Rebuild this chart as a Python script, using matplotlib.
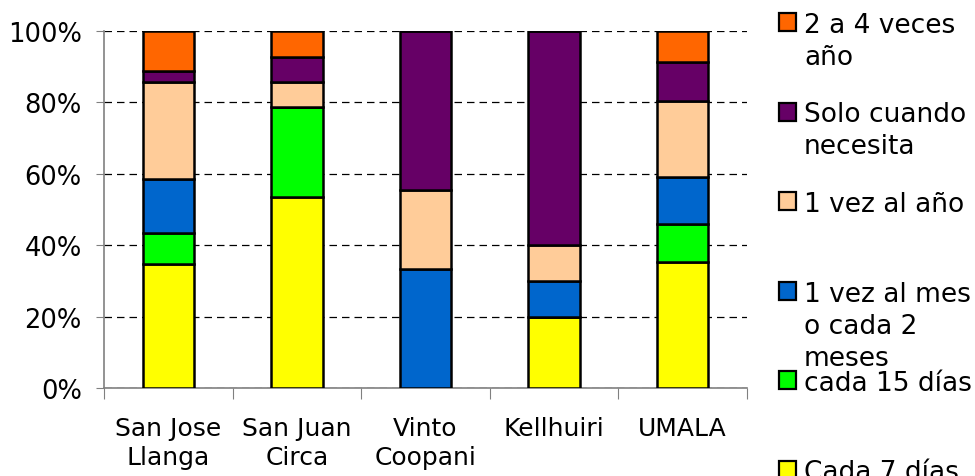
import matplotlib

matplotlib.use("Agg")

import matplotlib.patches as mpatches  # noqa: E402
import matplotlib.pyplot as plt  # noqa: E402
import numpy as np  # noqa: E402

# data (percent per community), bottom -> top
communities = ["San Jose\nLlanga", "San Juan\nCirca", "Vinto\nCoopani", "Kellhuiri", "UMALA"]
series_names = ["Cada 7 días", "cada 15 días", "1 vez al mes\no cada 2\nmeses",
                "1 vez al año", "Solo cuando\nnecesita", "2 a 4 veces\naño"]
cada_7 = [34.8, 53.6, 0.0, 20.0, 35.2]
cada_15 = [8.5, 25.0, 0.0, 0.0, 10.7]
mes_2meses = [15.2, 0.0, 33.3, 10.0, 13.1]
vez_anio = [27.2, 7.1, 22.2, 10.0, 21.4]
solo_cuando = [3.1, 7.1, 44.5, 60.0, 10.9]
dos_cuatro = [11.2, 7.1, 0.0, 0.0, 8.7]
colors = ["#FFFF00", "#00FF00", "#0066CC", "#FFCC99", "#660066", "#FF6600"]

values = [cada_7, cada_15, mes_2meses, vez_anio, solo_cuando, dos_cuatro]

FS_TICK = 18.5
FS_CAT = 18
FS_LEG = 19
plt.rcParams["font.family"] = ["DejaVu Sans"]

fig = plt.figure(figsize=(9.75, 4.77), dpi=100)
ax = fig.add_axes((104 / 975, 88 / 477, 643 / 975, 357 / 477))

x = np.arange(len(communities))
bottom = np.zeros(len(communities))
for vals, col in zip(values, colors):
    v = np.array(vals)
    ax.bar(x, v, width=0.4, bottom=bottom, color=col, edgecolor="black",
           linewidth=1.8, zorder=3)
    bottom += v

ax.set_ylim(0, 100)
ax.set_xlim(-0.5, len(communities) - 0.5)
ax.set_yticks([0, 20, 40, 60, 80, 100])
ax.set_yticklabels([f"{t}%" for t in [0, 20, 40, 60, 80, 100]], fontsize=FS_TICK)
ax.yaxis.grid(True, color="black", linestyle=(0, (6, 4)), linewidth=0.9, zorder=0)
ax.set_axisbelow(True)

# category edges as ticks, names centred
ax.set_xticks(np.arange(-0.5, len(communities)), labels=[])
ax.set_xticks(x, labels=communities, minor=True)
ax.tick_params(axis="x", which="major", length=8, color="#808080", direction="out")
ax.tick_params(axis="x", which="minor", length=0, pad=20, labelsize=FS_CAT)
ax.tick_params(axis="y", length=6, color="#808080", pad=10)
for lbl in ax.get_xticklabels(minor=True):
    lbl.set_linespacing(1.3)

for side in ("top", "right"):
    ax.spines[side].set_visible(False)
for side in ("left", "bottom"):
    ax.spines[side].set_color("#808080")
    ax.spines[side].set_linewidth(1.2)

# legend drawn by hand: top entry first, fixed spacing
W, H = 975, 477
for i, (name, col) in enumerate(zip(series_names[::-1], colors[::-1])):
    top = 14 + i * 89.5
    fig.patches.append(mpatches.Rectangle((779 / W, 1 - (top + 18) / H), 17 / W, 18 / H,
                                          transform=fig.transFigure, facecolor=col,
                                          edgecolor="black", linewidth=1.6))
    fig.text(804 / W, 1 - (top - 1) / H, name, fontsize=FS_LEG, va="top", ha="left",
             linespacing=1.3)

fig.savefig("out.png", dpi=100)
